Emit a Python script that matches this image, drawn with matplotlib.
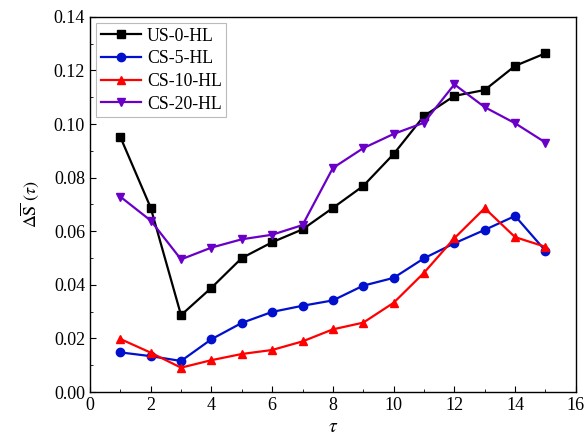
import matplotlib.pyplot as plt
from matplotlib.ticker import MultipleLocator

plt.rcParams['font.family'] = ['Liberation Serif', 'DejaVu Serif']
plt.rcParams['mathtext.fontset'] = 'stix'

tau = [1, 2, 3, 4, 5, 6, 7, 8, 9, 10, 11, 12, 13, 14, 15]

us0 = [0.0952, 0.0688, 0.0287, 0.0389, 0.0500, 0.0559, 0.0607, 0.0687,
       0.0769, 0.0888, 0.1030, 0.1105, 0.1127, 0.1217, 0.1264]
cs5 = [0.0148, 0.0134, 0.0116, 0.0197, 0.0258, 0.0299, 0.0322, 0.0342,
       0.0397, 0.0426, 0.0499, 0.0555, 0.0605, 0.0657, 0.0527]
cs10 = [0.0198, 0.0147, 0.0091, 0.0119, 0.0142, 0.0157, 0.0189, 0.0234,
        0.0259, 0.0333, 0.0445, 0.0574, 0.0686, 0.0578, 0.0542]
cs20 = [0.0729, 0.0640, 0.0495, 0.0539, 0.0570, 0.0587, 0.0623, 0.0836,
        0.0910, 0.0963, 0.1005, 0.1148, 0.1063, 0.1003, 0.0931]

series = [
    ('US-0-HL', us0, 'black', 's'),
    ('CS-5-HL', cs5, '#0010cc', 'o'),
    ('CS-10-HL', cs10, '#ff0000', '^'),
    ('CS-20-HL', cs20, '#6a00c8', 'v'),
]

fig = plt.figure(figsize=(5.84, 4.43), dpi=100)
ax = fig.add_axes([0.154, 0.115, 0.832, 0.847])

for name, vals, col, mk in series:
    ax.plot(tau, vals, color=col, marker=mk, markersize=6, linewidth=1.6, label=name)

ax.set_xlim(0, 16)
ax.set_ylim(0, 0.14)
ax.xaxis.set_major_locator(MultipleLocator(2))
ax.xaxis.set_minor_locator(MultipleLocator(1))
ax.yaxis.set_major_locator(MultipleLocator(0.02))
ax.yaxis.set_minor_locator(MultipleLocator(0.01))
ax.yaxis.set_major_formatter(plt.FormatStrFormatter('%.2f'))
ax.tick_params(which='both', direction='in', labelsize=13, top=False, right=False)
ax.tick_params(which='major', length=4)
ax.tick_params(which='minor', length=2.5)
for s in ax.spines.values():
    s.set_linewidth(1.0)

ax.set_xlabel(r'$\tau$', fontsize=14, labelpad=4)
ax.set_ylabel(r'$\Delta\overline{\mathrm{S}}\ (\tau)$', fontsize=13, labelpad=9)

leg = ax.legend(loc='upper left', fontsize=12.8, frameon=True, fancybox=False,
                handlelength=2.3, borderpad=0.25, labelspacing=0.32,
                handletextpad=0.3, borderaxespad=0.35)
leg.get_frame().set_edgecolor('#aaaaaa')
leg.get_frame().set_linewidth(0.8)

fig.savefig('out.png', dpi=100)
